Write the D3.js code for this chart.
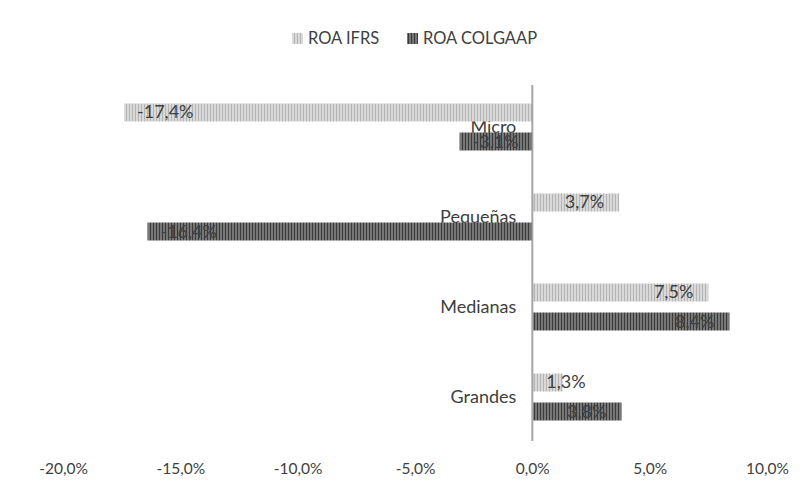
<!DOCTYPE html>
<html><head><meta charset="utf-8">
<script src="https://cdn.jsdelivr.net/npm/d3@7"></script>
<style>body{margin:0;background:#fff}svg{display:block}text{font-family:Lato,"Open Sans",sans-serif}</style>
</head><body><svg id="c" width="809" height="493"></svg>
<script>
const categories = ["Micro","Pequeñas","Medianas","Grandes"];
const seriesNames = ["ROA IFRS","ROA COLGAAP"];
const roaIFRS = [-17.4, 3.7, 7.5, 1.3];
const roaCOLGAAP = [-3.1, -16.4, 8.4, 3.8];
const tickValues = [-20,-15,-10,-5,0,5,10];

const svg = d3.select("#c");
const defs = svg.append("defs");
function stripe(id, bg, fg){
  const p = defs.append("pattern").attr("id",id).attr("patternUnits","userSpaceOnUse").attr("width",3).attr("height",3);
  p.append("rect").attr("width",3).attr("height",3).attr("fill",bg);
  p.append("rect").attr("width",1).attr("height",3).attr("fill",fg);
}
stripe("pI","#d9d9d9","#b4b4b4");
stripe("pC","#777777","#3a3a3a");
const fills = ["url(#pI)","url(#pC)"];

const x = d3.scaleLinear().domain([-20,10]).range([63,767]);
const y = d3.scaleBand().domain(categories).range([82,442]);
const half = y.bandwidth()/2;
const ys = d3.scaleBand().domain(seriesNames).range([half-23.5, half+23.5]).paddingInner(0.38).paddingOuter(0);

const data = categories.map((c,i)=>({c, vals:[roaIFRS[i], roaCOLGAAP[i]]}));
const fmt = v => d3.format(".1f")(v).replace(".",",").replace("−","-") + "%";

// category labels (behind bars)
svg.selectAll(".cat").data(categories).enter().append("text")
  .attr("x",x(0)-16).attr("y",d=>y(d)+half+6).attr("text-anchor","end")
  .attr("font-size",18).attr("fill","#404040").text(d=>d);

const g = svg.append("g");
data.forEach(d=>{
  d.vals.forEach((v,j)=>{
    const s = seriesNames[j];
    const y0 = y(d.c)+ys(s);
    g.append("rect").attr("x",x(Math.min(0,v))).attr("y",y0).attr("width",Math.abs(x(v)-x(0))).attr("height",ys.bandwidth()).attr("fill",fills[j]);
  });
});

// axis line
svg.append("line").attr("x1",x(0)).attr("x2",x(0)).attr("y1",85).attr("y2",441).attr("stroke","#a6a6a6").attr("stroke-width",2);

// data labels
data.forEach(d=>{
  d.vals.forEach((v,j)=>{
    const s = seriesNames[j];
    const yc = y(d.c)+ys(s)+ys.bandwidth()/2+6;
    const w = Math.abs(x(v)-x(0));
    let xp, anchor;
    if (v<0){ xp = x(v)+13; anchor="start"; }
    else if (w<50){ xp = x(0)+14; anchor="start"; }
    else { xp = x(v)-15; anchor="end"; }
    svg.append("text").attr("x",xp).attr("y",yc).attr("text-anchor",anchor)
      .attr("font-size",18).attr("fill","#404040").text(fmt(v));
  });
});

// x axis ticks
const ax = svg.append("g").attr("transform","translate(0,474)")
  .call(d3.axisBottom(x).tickValues(tickValues).tickSize(0).tickFormat(fmt));
ax.select(".domain").remove();
ax.selectAll("text").attr("font-size",15.5).attr("fill","#404040").attr("dy",0).attr("y",0).attr("font-family",'Lato,"Open Sans",sans-serif');

// legend
const lg = svg.append("g");
const lx = [292, 407];
seriesNames.forEach((s,i)=>{
  lg.append("rect").attr("x",lx[i]).attr("y",33).attr("width",11).attr("height",11).attr("fill",fills[i]);
  lg.append("text").attr("x",lx[i]+16).attr("y",44).attr("font-size",16.5).attr("fill","#404040").text(s);
});
</script></body></html>
